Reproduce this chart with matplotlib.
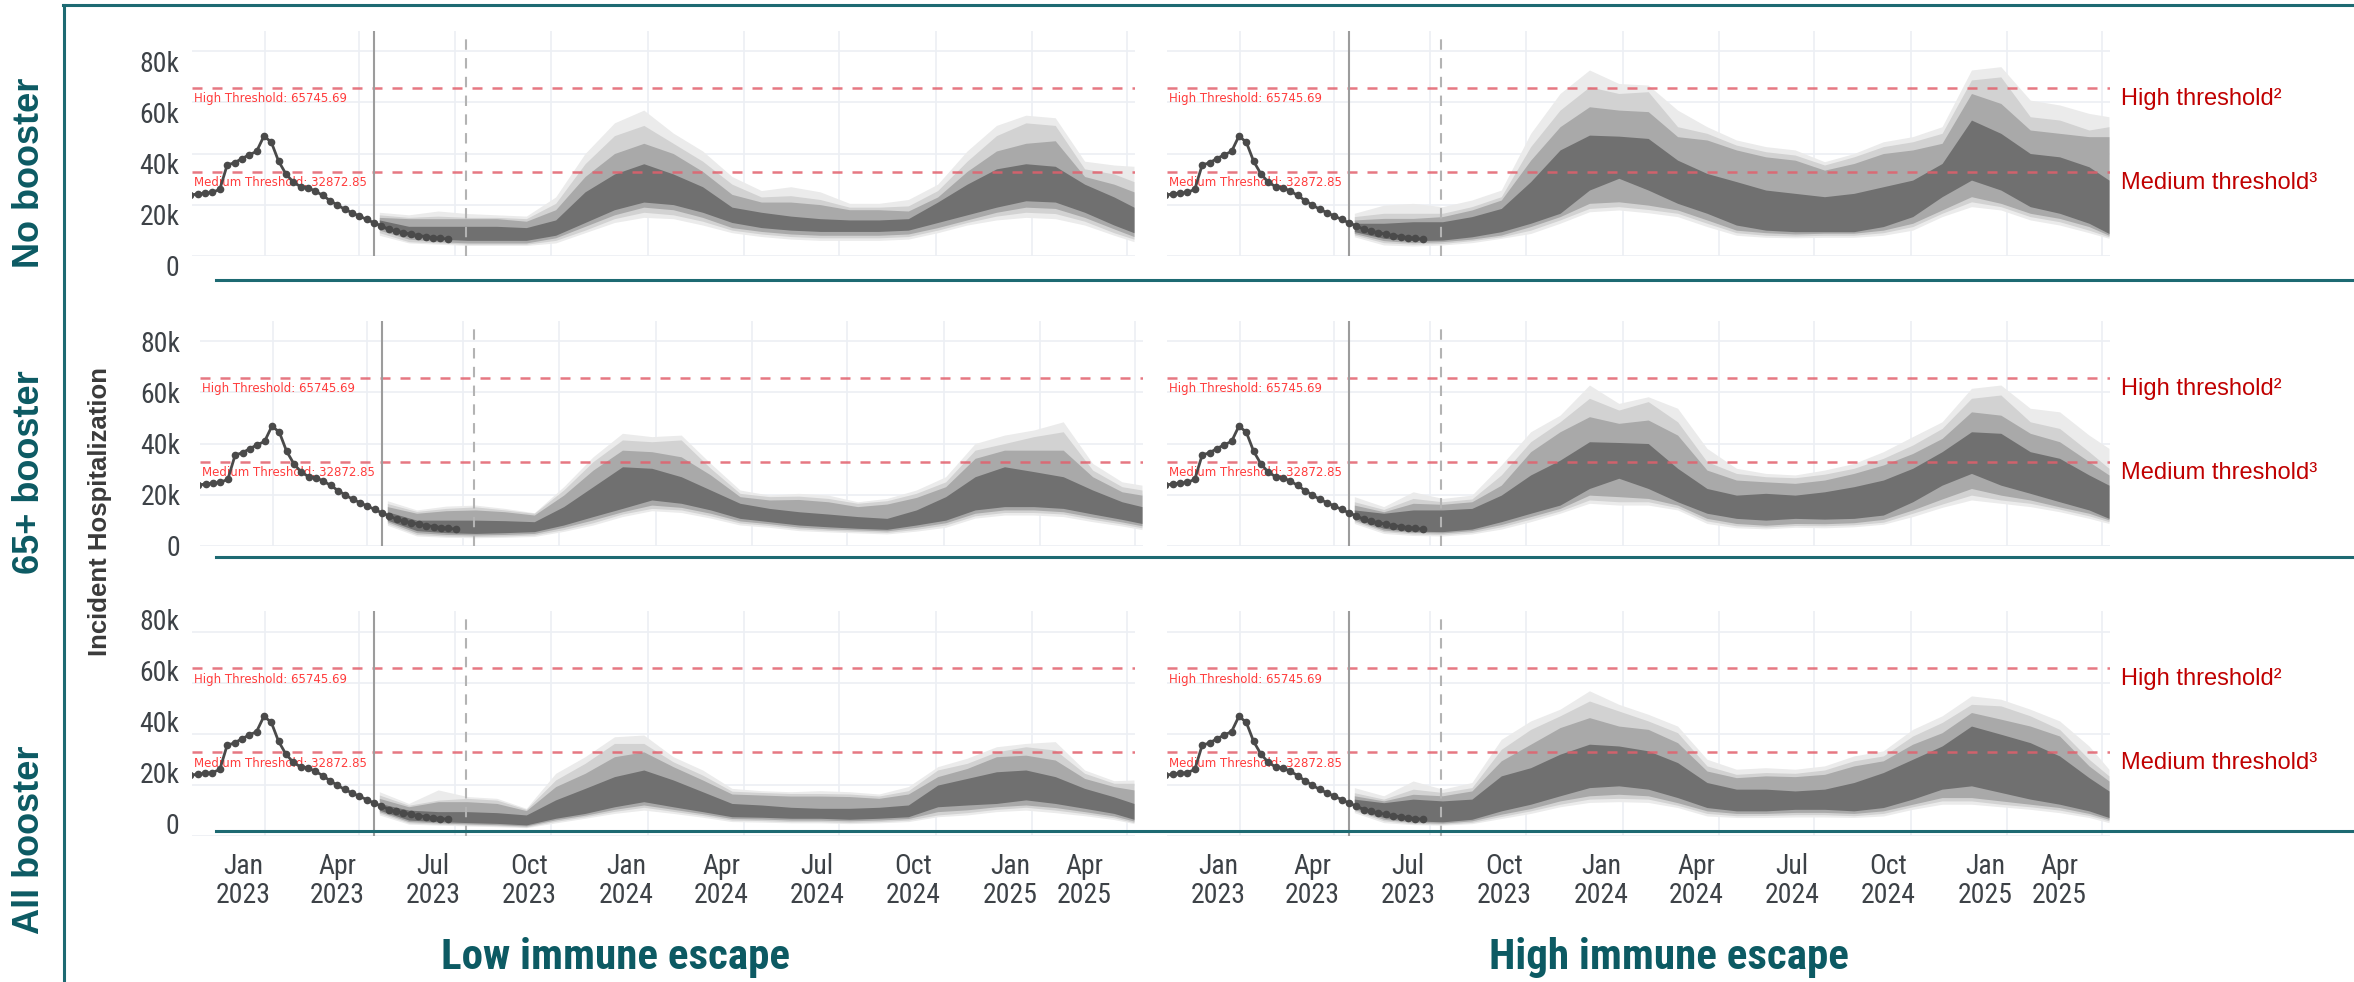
import os
import numpy as np
import pandas as pd
import matplotlib
matplotlib.use("Agg")
import matplotlib.pyplot as plt
from matplotlib import font_manager
from matplotlib.font_manager import FontProperties
from matplotlib.lines import Line2D
from matplotlib.transforms import ScaledTranslation, blended_transform_factory

plt.rcParams['font.family'] = ['Liberation Sans', 'DejaVu Sans']


def find_narrow(bold):
    # look for a condensed face for ticks / titles
    def w(f):
        if isinstance(f.weight, str):
            return 700 if 'bold' in f.weight else 400
        return f.weight
    prefs = [lambda f: f.name == 'Liberation Sans Narrow',
             lambda f: f.name == 'Roboto Condensed',
             lambda f: f.name == 'Open Sans Condensed',
             lambda f: f.name == 'DejaVu Sans' and 'Condensed' in os.path.basename(f.fname),
             lambda f: 'Condensed' in f.name or 'Narrow' in f.name]
    for p in prefs:
        for f in font_manager.fontManager.ttflist:
            if p(f) and (w(f) >= 600) == bold and f.style == 'normal':
                return f.fname
    return None


narrow_reg = find_narrow(False)
narrow_bold = find_narrow(True)

# ---------------- data ----------------
HIGH_T = 65745.69
MED_T = 32872.85

# weekly observed hospitalizations (thousands), first week 2022-10-22
obs_start = '2022-10-22'
observed = [23.7, 24.2, 24.5, 24.8, 26, 35.5, 36.4, 38, 39.5, 40.8, 46.8, 44.5,
            37, 32, 28.8, 27, 26.6, 25.3, 23.6, 21.6, 19.8, 18.2, 16.8, 15.5,
            14.2, 12.8, 11.7, 10.3, 9.6, 9.0, 8.4, 7.9, 7.5, 7.1, 6.8, 6.5]

proj_start = '2023-04-15'
data_cutoff = '2023-07-12'

proj_dates = ['2023-04-20', '2023-05-18', '2023-06-15', '2023-07-13', '2023-08-10',
              '2023-09-07', '2023-10-05', '2023-11-02', '2023-11-30', '2023-12-28',
              '2024-01-25', '2024-02-22', '2024-03-21', '2024-04-18', '2024-05-16',
              '2024-06-13', '2024-07-11', '2024-08-08', '2024-09-05', '2024-10-03',
              '2024-10-31', '2024-11-28', '2024-12-26', '2025-01-23', '2025-02-20',
              '2025-03-20', '2025-04-08']

# projection bands (thousands): lo4/hi4 outermost ... lo1/hi1 innermost
# No booster, low immune escape
nb_low_hi4 = [17, 16, 17.5, 16.5, 16, 15.5, 23, 40, 52, 57, 48, 41, 31, 25.5, 27, 25, 20.5, 20.5, 22, 28, 41, 51, 55, 54, 37, 35.5, 35]
nb_low_hi3 = [16, 15, 15.5, 15, 15, 14.5, 20.5, 36, 47, 51, 44, 37, 28, 23, 23.5, 22, 19, 19, 19.5, 25.5, 37, 47, 52, 51, 34, 32, 29]
nb_low_hi2 = [15, 14.5, 14.5, 14.5, 14.5, 13.5, 18, 31, 40, 44, 40, 33, 24, 21, 21, 20, 18, 18, 17.5, 23, 33, 41, 44, 45, 31, 28, 25]
nb_low_hi1 = [14, 11.5, 11.5, 11.5, 11.5, 11, 14, 25, 32, 36, 32, 27, 19, 17, 15.5, 14.5, 14, 14, 14.5, 21, 28, 34, 36, 35, 28, 23, 19]
nb_low_lo1 = [11, 7.5, 6.5, 6, 6, 6, 8, 13, 18, 21, 20, 17, 13, 11, 10, 9.5, 9.5, 9.5, 10, 13, 16, 19, 21.5, 21, 17, 12, 9]
nb_low_lo2 = [10, 6.5, 5.5, 5, 5, 5, 7, 11.5, 16, 19, 18, 15, 11, 9.5, 8.5, 8, 8, 8, 8.5, 11, 14, 17, 19, 18.5, 15, 10.5, 7.5]
nb_low_lo3 = [9, 5.5, 5, 4.5, 4.5, 4.5, 6, 10, 14.5, 17, 16, 13.5, 10, 8.5, 7.5, 7, 7, 7, 7.5, 10, 13, 15.5, 17, 16.5, 13.5, 9, 6.5]
nb_low_lo4 = [8, 5, 4.5, 4, 4, 4, 5, 9, 13, 15, 14.5, 12, 9, 7.5, 6.5, 6, 6, 6, 6.5, 9, 12, 14, 15, 14.5, 12, 8, 5.5]

# No booster, high immune escape
nb_high_hi4 = [16.6, 19.8, 20.5, 19.2, 21.8, 25.7, 47.9, 63.5, 72.7, 67.4, 66.8, 57, 50.5, 45.3, 42.7, 41.4, 36.8, 40, 44.6, 46.6, 50.5, 72.7, 74, 60.9, 59, 55.7, 54.4]
nb_high_hi3 = [15.3, 16.6, 16.6, 16.6, 19.2, 23.1, 42.7, 57, 66.1, 63.5, 64.2, 50.5, 47.9, 43.3, 40.7, 39.4, 35.5, 38.7, 42.7, 44.6, 47.9, 68.8, 70, 54.4, 53.1, 49.2, 50.5]
nb_high_hi2 = [14, 14.6, 14.6, 15.3, 17.9, 21.8, 37.4, 50.5, 58.3, 57, 56.4, 46.6, 45.3, 41.4, 38.7, 37.4, 33.5, 36.1, 40, 41.4, 44, 63.5, 59.6, 49.2, 47.9, 46.6, 46.6]
nb_high_hi1 = [12.7, 12.7, 13.3, 13.3, 15.3, 18.5, 29, 41.4, 47.2, 46.8, 45.9, 37.4, 32.2, 29, 25.7, 24.4, 23.1, 24.4, 27, 29.6, 36.1, 53.1, 47.9, 40, 38.7, 34.8, 29.6]
nb_high_lo1 = [9.4, 6.8, 5.9, 6.1, 7.4, 9.4, 12.7, 16.6, 25.7, 30.3, 25.7, 20.5, 16.6, 12, 10, 9.4, 9.4, 9.4, 11.4, 15.3, 23.1, 29.6, 25.7, 19.2, 16.6, 12.7, 8.7]
nb_high_lo2 = [8.7, 5.9, 5.1, 5.5, 6.5, 8.1, 11.4, 15.3, 20.5, 21.1, 19.8, 17.9, 14, 10, 9, 8.5, 8.8, 8.8, 10, 12.7, 17.9, 23.1, 20.5, 16.6, 14.6, 11.4, 8]
nb_high_lo3 = [8.1, 5.1, 4.5, 4.8, 5.9, 7.4, 10, 14, 18.5, 19.2, 18.1, 16.6, 12.7, 9, 8, 7.7, 8, 8, 9, 11.4, 16.6, 21.1, 19.2, 15.3, 13.3, 10, 7.4]
nb_high_lo4 = [7.4, 4.2, 3.8, 4.2, 5.1, 6.8, 8.7, 12.7, 17.2, 17.9, 16.8, 15.3, 11.4, 8, 7.2, 7, 7.2, 7.2, 8, 10, 15.3, 19.2, 17.9, 14, 12, 9, 6.8]

# 65+ booster, low immune escape
b65_low_hi4 = [17.6, 14, 15.5, 15.9, 14.6, 12.9, 23.1, 34.8, 44, 42.7, 43.3, 32.2, 21.8, 19.8, 20.5, 19.8, 17.2, 18.5, 21.8, 27, 40, 43.3, 45.3, 48.5, 32.2, 25, 23.7]
b65_low_hi3 = [16.5, 13.4, 14.6, 15.2, 14, 12.7, 21.8, 32.9, 41.4, 40.7, 41.4, 30.3, 20.5, 19.2, 19.4, 18.5, 16.6, 17.6, 20.5, 25, 37.4, 40, 42.7, 44.6, 29.6, 23.1, 21.8]
b65_low_hi2 = [15.3, 12.7, 13.7, 14, 13.3, 12, 19.8, 29.6, 37.4, 36.8, 34.8, 27.7, 19.2, 17.9, 18.1, 17.2, 15.3, 16.3, 18.9, 23.1, 34.2, 37.4, 37.4, 37.4, 27, 21.1, 19.8]
b65_low_hi1 = [13.3, 10, 10, 10, 9.8, 9.4, 15.3, 23.1, 30.9, 30.3, 27, 21.8, 16.6, 14.6, 13.3, 12.4, 11.4, 10.7, 14, 19.2, 27, 30.9, 29, 27, 21.8, 17.2, 15.3]
b65_low_lo1 = [10, 5.9, 5.1, 4.8, 5.1, 5.5, 8.1, 11.4, 14.6, 17.9, 16.6, 14, 10.7, 9.4, 8.1, 7.4, 6.8, 6.4, 8.1, 10, 14, 15.3, 15.3, 14.6, 12.4, 10.3, 8.7]
b65_low_lo2 = [9.4, 5.1, 4.4, 4.2, 4.4, 4.8, 7.2, 10.1, 13.3, 15.9, 15, 12.7, 9.7, 8.6, 7.3, 6.6, 6.2, 5.8, 7.2, 9, 12.7, 14, 14, 13.3, 11.2, 9.3, 7.8]
b65_low_lo3 = [8.7, 4.4, 3.8, 3.6, 3.8, 4.2, 6.3, 9, 12.4, 14.6, 14, 11.7, 8.9, 7.9, 6.6, 6, 5.6, 5.2, 6.4, 8.1, 11.7, 13, 13, 12.4, 10.3, 8.5, 7]
b65_low_lo4 = [8, 3.8, 3.3, 3.1, 3.3, 3.6, 5.6, 8.1, 11.4, 13.7, 13, 10.8, 8.1, 7.2, 5.9, 5.4, 5, 4.6, 5.7, 7.2, 10.8, 12, 12, 11.4, 9.4, 7.7, 6.3]

# 65+ booster, high immune escape
b65_high_hi4 = [19.2, 15.3, 21.1, 18.5, 19.8, 31.6, 44.6, 51.1, 62.9, 55.7, 58.3, 53.8, 38.1, 30.3, 28.3, 27.7, 29.6, 32.2, 36.8, 42.7, 48.5, 61.6, 62.9, 53.8, 52.4, 43.3, 38.1]
b65_high_hi3 = [17.2, 14.2, 18.5, 17.2, 18.3, 27.7, 40.7, 48.5, 57.7, 53.1, 56.4, 48.5, 32.9, 28.3, 27, 26.6, 28, 30.3, 34.2, 39.4, 45.9, 57.7, 59, 48.5, 45.9, 36.8, 30.3]
b65_high_hi2 = [15.9, 13.3, 16.6, 16.2, 17.2, 23.7, 36.8, 44.6, 50.5, 47.9, 49.2, 43.3, 29.6, 25.7, 25, 24.4, 25.7, 28.3, 31.6, 36.1, 42, 52.4, 51.1, 44, 40.7, 32.9, 27.7]
b65_high_hi1 = [14, 12.7, 14, 14, 14.6, 19.8, 27.7, 33.5, 40.7, 40.4, 40, 30.3, 22.4, 19.8, 20.5, 19.8, 21.1, 23.1, 25.7, 30.3, 36.8, 44.6, 44, 36.8, 34.2, 27.7, 23.7]
b65_high_lo1 = [10.7, 6.8, 5.7, 5.5, 6.5, 9.4, 12.7, 15.9, 22.4, 26.4, 22.4, 17.2, 12.7, 10.7, 10, 10.7, 10.4, 10.7, 12, 17.2, 23.7, 28.3, 23.7, 20.5, 17.2, 14, 10.7]
b65_high_lo2 = [10, 6.1, 5.2, 5, 5.9, 8.3, 11.4, 14.6, 19.8, 19.2, 18.5, 15.9, 10.7, 8.7, 8, 8.7, 8.6, 9, 10.3, 14, 18.3, 22.4, 19.8, 17.9, 15.2, 12.7, 10.1]
b65_high_lo3 = [9.4, 5.5, 4.6, 4.4, 5.2, 7.4, 10.4, 13.6, 17.9, 17.2, 17.2, 14.9, 9.7, 7.8, 7.3, 7.9, 7.8, 8.2, 9.2, 12.7, 16.3, 19.8, 17.9, 16.6, 14.3, 11.7, 9.4]
b65_high_lo4 = [8.7, 4.8, 4, 3.8, 4.6, 6.5, 9.4, 12.7, 16.6, 15.9, 15.9, 14, 8.7, 7, 6.6, 7.2, 7, 7.4, 8.4, 11.4, 15, 17.9, 16.6, 15.3, 13.3, 10.7, 8.7]

# All booster, low immune escape
all_low_hi4 = [17.3, 12.7, 18, 15.4, 14.7, 10.8, 24.5, 31, 38.8, 39.5, 31, 25.8, 18.6, 17.7, 17.3, 17.7, 17.3, 16.4, 19.3, 27.1, 30.4, 34.9, 36.2, 36.9, 25.8, 21.6, 21.9]
all_low_hi3 = [16, 12, 14, 14.7, 14, 10.4, 21.9, 28.4, 36.2, 36.2, 29, 23.8, 17.5, 17, 16.6, 16.6, 16.4, 15.6, 17.7, 25.8, 28.4, 32.9, 34.9, 33.6, 24.5, 20.6, 20.6]
all_low_hi2 = [14.7, 11.4, 13.4, 13.4, 12.7, 9.9, 19.3, 24.5, 31, 32.9, 27.1, 21.9, 16.4, 16, 15.6, 15.6, 15.4, 14.7, 16.4, 23.2, 26.4, 31, 31.6, 29.7, 22.5, 19.3, 18]
all_low_hi1 = [12.7, 10.1, 9.5, 9.5, 9.1, 8.2, 14.1, 18.6, 23.2, 25.8, 21.9, 17.3, 12.7, 12.1, 11.2, 10.8, 10.8, 11.2, 12.1, 19.9, 22.5, 25.1, 25.8, 23.2, 18.6, 15.3, 12.7]
all_low_lo1 = [10.1, 6.2, 5.6, 5.2, 4.9, 4.3, 6.9, 8.8, 11.4, 13.4, 11.4, 9.5, 7.5, 7.3, 6.9, 6.9, 6.5, 6.9, 7.5, 11.4, 12.1, 12.7, 14.1, 12.7, 10.8, 8.8, 6.5]
all_low_lo2 = [9.5, 5.6, 5.1, 4.7, 4.4, 3.9, 6.3, 8.1, 10.4, 12.1, 10.4, 8.7, 6.8, 6.6, 6.2, 6.2, 5.9, 6.2, 6.8, 9.5, 10.2, 11.4, 12.1, 11.1, 9.5, 7.8, 5.8]
all_low_lo3 = [8.9, 5.1, 4.6, 4.3, 4, 3.5, 5.7, 7.5, 9.6, 11.2, 9.6, 8, 6.2, 6, 5.6, 5.6, 5.3, 5.6, 6.2, 8.2, 9.1, 10.4, 11.2, 10.1, 8.7, 7.1, 5.2]
all_low_lo4 = [8.2, 4.6, 4.2, 3.9, 3.6, 3.2, 5.1, 6.9, 8.8, 10.1, 8.8, 7.3, 5.6, 5.4, 5.1, 5.1, 4.8, 5.1, 5.6, 7.5, 8.2, 9.5, 10.1, 9.1, 7.9, 6.4, 4.8]

# All booster, high immune escape
all_high_hi4 = [18.9, 15.7, 21.5, 18.3, 20.9, 37.8, 45, 49.6, 56.8, 51.5, 47.6, 43, 30, 26.1, 26.7, 26.1, 27.4, 31.3, 33.3, 41.7, 47, 54.8, 53.5, 49.6, 45, 35.2, 26.1]
all_high_hi3 = [16.9, 14.4, 18.3, 17, 18.9, 33.9, 41.7, 47, 52.8, 48.9, 45, 40.4, 27.4, 24.1, 24.8, 24.5, 25.8, 29.4, 31.3, 39.1, 44.4, 51.5, 50.9, 47, 41.7, 30, 23.5]
all_high_hi2 = [15.7, 13.7, 16.3, 15.7, 17.6, 29.4, 35.9, 42.4, 46.3, 43, 41.7, 36.5, 25.4, 22.8, 23.5, 23.2, 24.1, 27.4, 29.4, 35.9, 40.4, 48.3, 45.7, 43, 39.1, 27.4, 21.5]
all_high_hi1 = [14.4, 13, 14.4, 13.7, 14.4, 23.5, 26.7, 32, 35.9, 35.2, 33.3, 28.7, 20.9, 18.3, 18.3, 17.6, 18.3, 20.9, 24.8, 30, 35.2, 43, 39.8, 36.5, 31.3, 22.8, 17.6]
all_high_lo1 = [11.1, 7.2, 5.9, 5.5, 6.5, 9.8, 12.4, 15.7, 18.9, 19.6, 18.3, 15, 11.1, 9.8, 9.8, 10.4, 10.4, 9.8, 11.1, 14.4, 18.3, 19.6, 17, 14.4, 12.4, 9.8, 7.2]
all_high_lo2 = [10.4, 6.5, 5.3, 5, 5.9, 8.5, 10.7, 13.7, 15.7, 16.3, 15.7, 13, 9.8, 8.8, 8.8, 9.2, 9.2, 8.8, 9.8, 12.4, 15, 15, 13.7, 12.4, 11.1, 8.8, 6.5]
all_high_lo3 = [9.8, 5.9, 4.8, 4.6, 5.3, 7.6, 9.8, 12.4, 14.4, 14.7, 14.4, 12, 8.8, 7.9, 8, 8.3, 8.3, 7.9, 8.8, 11.4, 13.7, 13.7, 12.4, 11.4, 10.1, 8, 5.9]
all_high_lo4 = [9.1, 5.2, 4.4, 4.2, 4.8, 6.8, 8.8, 11.4, 13.1, 13.4, 13.1, 11.1, 7.8, 7.2, 7.2, 7.4, 7.4, 7.2, 7.8, 10.4, 12.4, 12.4, 11.4, 10.4, 9.1, 7.2, 5.2]

row_labels = ['No booster', '65+ booster', 'All booster']
col_titles = ['Low immune escape', 'High immune escape']
y_ticks = [0, 20000, 40000, 60000, 80000]
y_ticklabels = ['0', '20k', '40k', '60k', '80k']
x_ticks = ['2023-01-01', '2023-04-01', '2023-07-01', '2023-10-01', '2024-01-01',
           '2024-04-01', '2024-07-01', '2024-10-01', '2025-01-01', '2025-04-01']
x_ticklabels = ['Jan\n2023', 'Apr\n2023', 'Jul\n2023', 'Oct\n2023', 'Jan\n2024',
                'Apr\n2024', 'Jul\n2024', 'Oct\n2024', 'Jan\n2025', 'Apr\n2025']

panels = [
    [(nb_low_lo4, nb_low_hi4, nb_low_lo3, nb_low_hi3, nb_low_lo2, nb_low_hi2, nb_low_lo1, nb_low_hi1),
     (nb_high_lo4, nb_high_hi4, nb_high_lo3, nb_high_hi3, nb_high_lo2, nb_high_hi2, nb_high_lo1, nb_high_hi1)],
    [(b65_low_lo4, b65_low_hi4, b65_low_lo3, b65_low_hi3, b65_low_lo2, b65_low_hi2, b65_low_lo1, b65_low_hi1),
     (b65_high_lo4, b65_high_hi4, b65_high_lo3, b65_high_hi3, b65_high_lo2, b65_high_hi2, b65_high_lo1, b65_high_hi1)],
    [(all_low_lo4, all_low_hi4, all_low_lo3, all_low_hi3, all_low_lo2, all_low_hi2, all_low_lo1, all_low_hi1),
     (all_high_lo4, all_high_hi4, all_high_lo3, all_high_hi3, all_high_lo2, all_high_hi2, all_high_lo1, all_high_hi1)],
]

# ---------------- style ----------------
TEAL = '#1d6a72'
TEAL_TXT = '#0c5a63'
TICK_C = '#3d4247'
RED = '#c00000'
band_colors = ['#ebebeb', '#d2d2d2', '#a9a9a9', '#707070']

if narrow_reg:
    tick_fp = FontProperties(fname=narrow_reg, size=20)
else:
    tick_fp = FontProperties(family='Liberation Sans', size=17)
if narrow_bold:
    title_fp = FontProperties(fname=narrow_bold, size=31)
else:
    title_fp = FontProperties(family='Liberation Sans', weight='bold', size=26)

W, H = 2354, 982
fig = plt.figure(figsize=(W / 100, H / 100), dpi=100)

ax_h = 224.8
row_bottom = [255.7, 545.7, 835.9]
col_x = [[(192, 1135), (1167, 2110)],
         [(200, 1143), (1167, 2110)],
         [(192, 1135), (1167, 2110)]]
ylab_shift = [-10, 0, 12]   # pixel nudges of y tick labels (+ = up)

obs_dates = pd.date_range(obs_start, periods=len(observed), freq='7D')
pdates = pd.to_datetime(proj_dates)

for r in range(3):
    for c in range(2):
        x0, x1 = col_x[r][c]
        ax = fig.add_axes([x0 / W, 1 - row_bottom[r] / H, (x1 - x0) / W, ax_h / H])
        ax.set_xlim(pd.Timestamp('2022-10-23 12:00'), pd.Timestamp('2025-04-09'))
        ax.set_ylim(0, 88000)
        for s in ax.spines.values():
            s.set_visible(False)
        ax.grid(True, color='#eceff4', lw=1.2)
        ax.set_axisbelow(True)
        ax.tick_params(length=0)

        b = panels[r][c]
        for k in range(4):
            ax.fill_between(pdates, np.array(b[2 * k]) * 1000, np.array(b[2 * k + 1]) * 1000,
                            color=band_colors[k], lw=0, zorder=1)

        for thr in (HIGH_T, MED_T):
            ax.axhline(thr, color='#e2606c', lw=1.8, ls=(0, (4, 4)), alpha=0.85, zorder=2)
        ax.text(0.002, HIGH_T - 1800, f'High Threshold: {HIGH_T:.2f}', transform=ax.get_yaxis_transform(),
                ha='left', va='top', fontsize=8.5, color='#ff3c3c', family='DejaVu Sans', zorder=2)
        ax.text(0.002, MED_T - 1800, f'Medium Threshold: {MED_T:.2f}', transform=ax.get_yaxis_transform(),
                ha='left', va='top', fontsize=8.5, color='#ff3c3c', family='DejaVu Sans', zorder=2)

        ax.axvline(pd.Timestamp(proj_start), color='#9c9c9c', lw=1.5, zorder=2)
        ax.axvline(pd.Timestamp(data_cutoff), color='#b3b3b3', lw=1.5, ls=(0, (5, 4)), zorder=2)

        ax.plot(obs_dates, np.array(observed) * 1000, '-o', color='#4a4a4a', lw=2, ms=4.5, zorder=4)

        ax.set_xticks(pd.to_datetime(x_ticks))
        ax.set_yticks(y_ticks)
        if r == 2:
            ax.set_xticklabels(x_ticklabels, fontproperties=tick_fp, color=TICK_C, linespacing=1.1)
            ax.tick_params(axis='x', pad=12)
            labels = ax.get_xticklabels()
            for i, lbl in enumerate(labels):
                dx = -42 if i == len(labels) - 1 else -22
                lbl.set_transform(lbl.get_transform() + ScaledTranslation(dx / 100, 0, fig.dpi_scale_trans))
        else:
            ax.set_xticklabels([])
        if c == 0:
            ax.set_yticklabels(y_ticklabels, fontproperties=tick_fp, color=TICK_C)
            ax.tick_params(axis='y', pad=9 if r != 1 else 14)
            off = ScaledTranslation(0, ylab_shift[r] / 100, fig.dpi_scale_trans)
            for lbl in ax.get_yticklabels():
                lbl.set_transform(lbl.get_transform() + off)
        else:
            ax.set_yticklabels([])
            tr = blended_transform_factory(fig.transFigure, ax.transData)
            ax.text(2121 / W, HIGH_T, 'High threshold²', transform=tr, ha='left', va='top',
                    fontsize=17, color=RED)
            ax.text(2121 / W, MED_T, 'Medium threshold³', transform=tr, ha='left', va='top',
                    fontsize=17, color=RED)

# frame lines
fig.add_artist(Line2D([63 / W, 1], [1 - 5 / H] * 2, transform=fig.transFigure, color=TEAL, lw=2.2, zorder=10))
fig.add_artist(Line2D([64 / W, 64 / W], [1 - 5 / H, 0], transform=fig.transFigure, color=TEAL, lw=2.2, zorder=10))
for yl in (280, 557, 831):
    fig.add_artist(Line2D([216 / W, 1], [1 - yl / H] * 2, transform=fig.transFigure, color=TEAL, lw=2.2, zorder=10))

# row labels
for lab, yc in zip(row_labels, (173, 472, 840)):
    fig.text(30 / W, 1 - yc / H, lab, rotation=90, ha='center', va='center',
             fontsize=26, fontweight='bold', color=TEAL_TXT)

fig.text(100 / W, 1 - 512 / H, 'Incident Hospitalization', rotation=90, ha='center', va='center',
         fontsize=18.5, fontweight='bold', color='#3a3a3a')

for t, xc in zip(col_titles, (616, 1669)):
    fig.text(xc / W, 1 - 958 / H, t, ha='center', va='center', fontproperties=title_fp, color=TEAL_TXT)

fig.savefig('out.png', dpi=100)
